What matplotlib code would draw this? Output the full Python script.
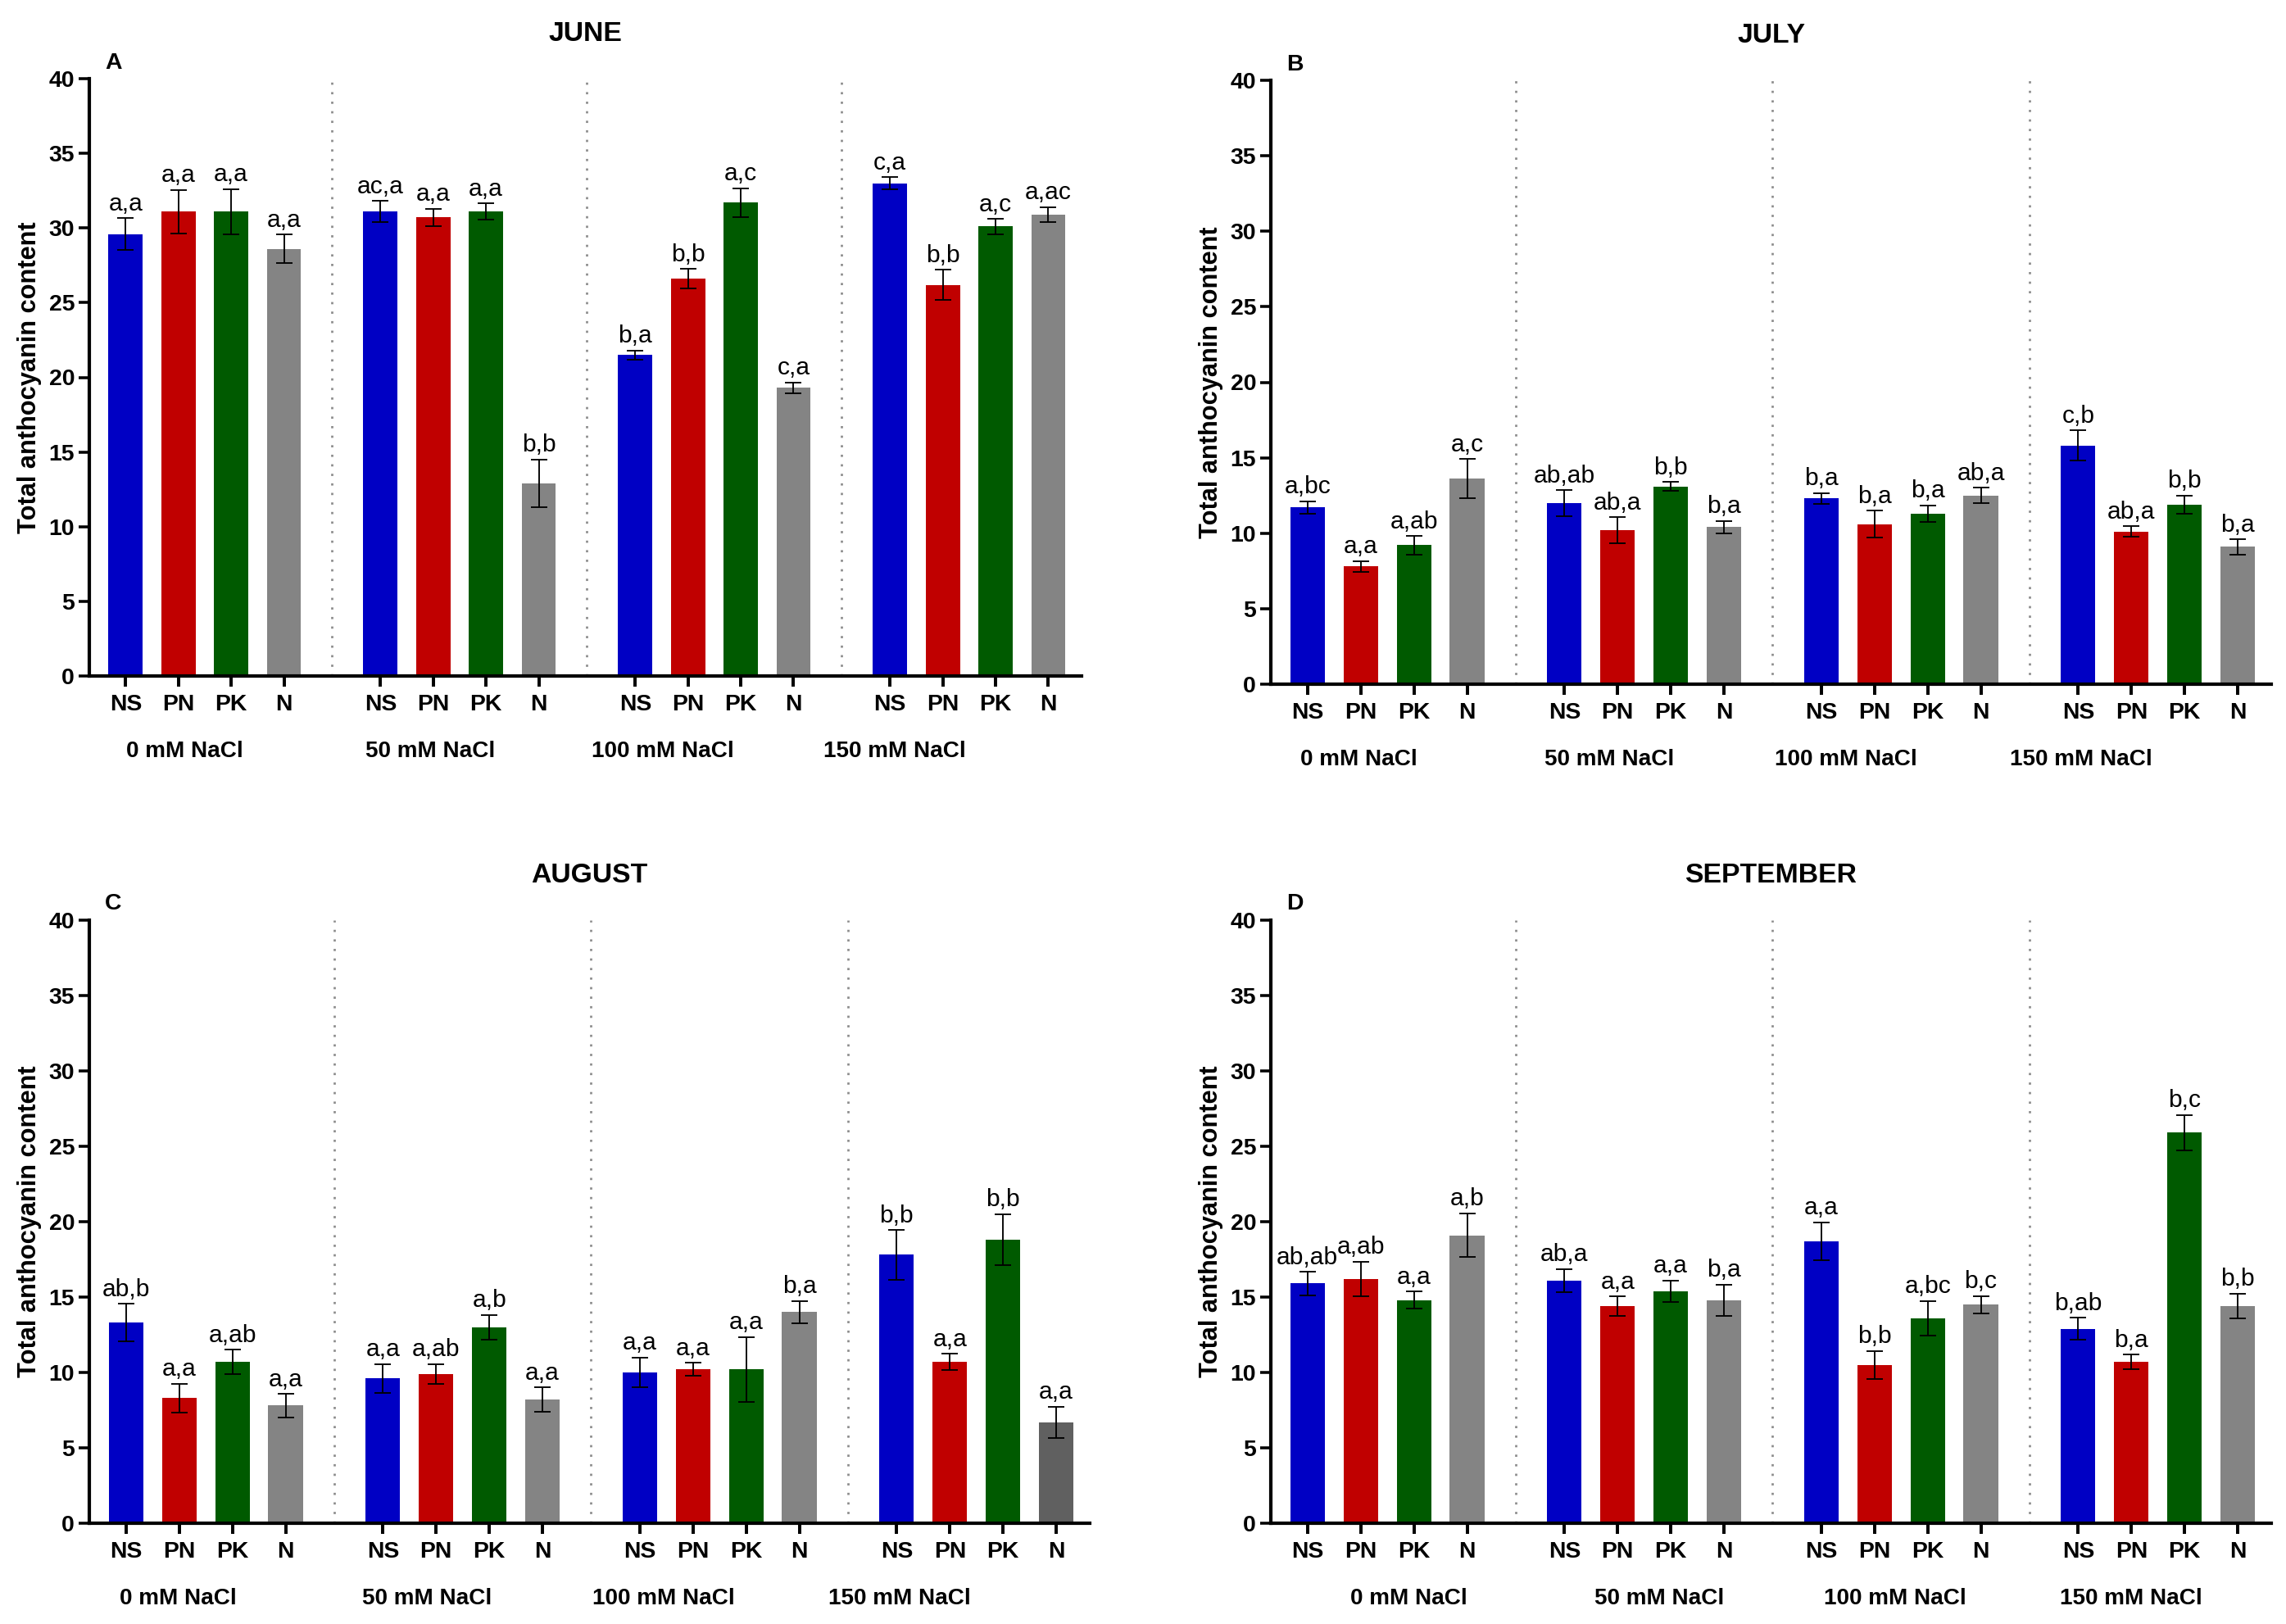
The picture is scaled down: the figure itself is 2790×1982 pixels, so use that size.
import numpy as np
import matplotlib
matplotlib.use("Agg")
import matplotlib.pyplot as plt

plt.rcParams['font.family'] = ['Liberation Sans', 'DejaVu Sans']

# data (total anthocyanin content)
months = ['JUNE', 'JULY', 'AUGUST', 'SEPTEMBER']
panel_tags = ['A', 'B', 'C', 'D']
treatments = ['NS', 'PN', 'PK', 'N']
salt_levels = ['0 mM NaCl', '50 mM NaCl', '100 mM NaCl', '150 mM NaCl']

# values per month, ordered group by group (NS, PN, PK, N for each salt level)
june_mean = [29.6, 31.1, 31.1, 28.6,  31.1, 30.7, 31.1, 12.9,  21.5, 26.6, 31.7, 19.3,  33.0, 26.2, 30.1, 30.9]
june_err = [1.05, 1.45, 1.5, 0.95,  0.7, 0.6, 0.55, 1.6,  0.3, 0.65, 0.95, 0.35,  0.4, 1.0, 0.5, 0.5]
july_mean = [11.7, 7.8, 9.2, 13.6,  12.0, 10.2, 13.1, 10.4,  12.3, 10.6, 11.3, 12.5,  15.8, 10.1, 11.9, 9.1]
july_err = [0.4, 0.35, 0.6, 1.3,  0.85, 0.85, 0.3, 0.4,  0.35, 0.9, 0.55, 0.5,  1.0, 0.35, 0.6, 0.5]
aug_mean = [13.3, 8.3, 10.7, 7.8,  9.6, 9.9, 13.0, 8.2,  10.0, 10.2, 10.2, 14.0,  17.8, 10.7, 18.8, 6.7]
aug_err = [1.25, 0.95, 0.8, 0.77,  0.95, 0.65, 0.8, 0.8,  1.0, 0.43, 2.15, 0.73,  1.65, 0.53, 1.7, 1.03]
sep_mean = [15.9, 16.2, 14.8, 19.1,  16.1, 14.4, 15.4, 14.8,  18.7, 10.5, 13.6, 14.5,  12.9, 10.7, 25.9, 14.4]
sep_err = [0.77, 1.15, 0.57, 1.45,  0.77, 0.63, 0.7, 1.03,  1.27, 0.93, 1.13, 0.57,  0.73, 0.47, 1.17, 0.83]

june_sig = ['a,a', 'a,a', 'a,a', 'a,a', 'ac,a', 'a,a', 'a,a', 'b,b',
            'b,a', 'b,b', 'a,c', 'c,a', 'c,a', 'b,b', 'a,c', 'a,ac']
july_sig = ['a,bc', 'a,a', 'a,ab', 'a,c', 'ab,ab', 'ab,a', 'b,b', 'b,a',
            'b,a', 'b,a', 'b,a', 'ab,a', 'c,b', 'ab,a', 'b,b', 'b,a']
aug_sig = ['ab,b', 'a,a', 'a,ab', 'a,a', 'a,a', 'a,ab', 'a,b', 'a,a',
           'a,a', 'a,a', 'a,a', 'b,a', 'b,b', 'a,a', 'b,b', 'a,a']
sep_sig = ['ab,ab', 'a,ab', 'a,a', 'a,b', 'ab,a', 'a,a', 'a,a', 'b,a',
           'a,a', 'b,b', 'a,bc', 'b,c', 'b,ab', 'b,a', 'b,c', 'b,b']

all_means = [june_mean, july_mean, aug_mean, sep_mean]
all_errs = [june_err, july_err, aug_err, sep_err]
all_sigs = [june_sig, july_sig, aug_sig, sep_sig]

# styling / layout
treat_colors = ['#0000C4', '#C00000', '#005A00', '#848484']
dark_grey = '#606060'   # last N bar in August is darker
group_step = 4.83
bar_w = 0.65
axes_rects = [
    [109 / 2790, 1 - 825 / 1982, 1211 / 2790, 729 / 1982],
    [1551 / 2790, 1 - 835 / 1982, 1221 / 2790, 737 / 1982],
    [109 / 2790, 1 - 1859 / 1982, 1221 / 2790, 736 / 1982],
    [1551 / 2790, 1 - 1859 / 1982, 1221 / 2790, 736 / 1982],
]
# horizontal shift of the salt-level labels relative to the group centre
label_shift = [
    [-0.38, -0.56, -0.98, -1.42],
    [-0.53, -0.66, -1.04, -1.45],
    [-0.52, -0.67, -1.05, -1.44],
    [0.40, 0.28, -0.11, -0.51],
]

fig = plt.figure(figsize=(9.3, 1982 / 300), dpi=300)

n_t = len(treatments)
x = np.array([g * group_step + t for g in range(len(salt_levels)) for t in range(n_t)])

for i in range(4):
    ax = fig.add_axes(axes_rects[i])
    means = all_means[i]
    errs = all_errs[i]
    colors = [treat_colors[k % n_t] for k in range(len(means))]
    if i == 2:
        colors[-1] = dark_grey
    ax.bar(x, means, width=bar_w, color=colors, zorder=2)
    ax.errorbar(x, means, yerr=errs, fmt='none', ecolor='black', elinewidth=0.45,
                capsize=2.5, capthick=0.45, zorder=3)
    for xi, m, e, s in zip(x, means, errs, all_sigs[i]):
        ax.annotate(s, xy=(xi, m + e), xytext=(0, 2.3), textcoords='offset points',
                    ha='center', va='baseline', fontsize=7.2)

    # dotted separators between salt levels
    for g in range(1, len(salt_levels)):
        xm = (x[g * n_t - 1] + x[g * n_t]) / 2
        ax.plot([xm, xm], [0, 40], color='#8c8c8c', lw=0.65,
                linestyle=(0, (1, 3.3)), zorder=1)

    ax.set_xlim(-0.69, 18.12)
    ax.set_ylim(0, 40)
    ax.set_yticks(np.arange(0, 41, 5))
    ax.set_xticks(x)
    ax.set_xticklabels(treatments * len(salt_levels))
    for lab in ax.get_xticklabels() + ax.get_yticklabels():
        lab.set_fontweight('bold')
        lab.set_fontsize(6.8)
    ax.tick_params(axis='y', length=3.1, width=0.85, pad=1.2)
    ax.tick_params(axis='x', length=3.1, width=0.95, pad=2.2)
    ax.spines['top'].set_visible(False)
    ax.spines['right'].set_visible(False)
    ax.spines['left'].set_linewidth(1.0)
    ax.spines['bottom'].set_linewidth(1.0)

    ax.set_ylabel('Total anthocyanin content', fontsize=7.4, fontweight='bold', va='center')
    ax.yaxis.set_label_coords(-0.060, 0.5)
    ax.set_title(months[i], fontsize=8.1, fontweight='bold', pad=11)
    ax.annotate(panel_tags[i], xy=(0.024, 1), xycoords='axes fraction', xytext=(0, 3),
                textcoords='offset points', ha='center', va='baseline',
                fontsize=6.8, fontweight='bold')

    for g, lvl in enumerate(salt_levels):
        xc = x[g * n_t:(g + 1) * n_t].mean() + label_shift[i][g]
        ax.annotate(lvl, xy=(xc, 0), xycoords=('data', 'axes fraction'), xytext=(0, -22),
                    textcoords='offset points', ha='center', va='center',
                    fontsize=6.7, fontweight='bold')

fig.savefig('out.png', dpi=300)
